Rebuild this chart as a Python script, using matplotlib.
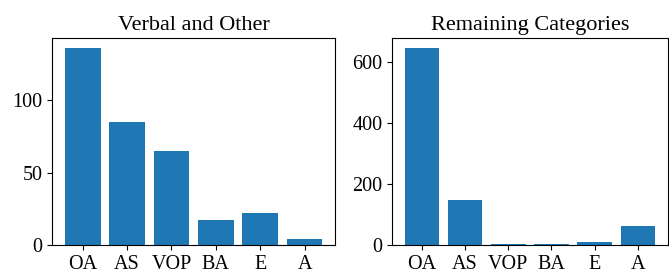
import matplotlib
matplotlib.use("Agg")
import matplotlib.pyplot as plt

plt.rcParams["font.family"] = ["Liberation Serif", "DejaVu Serif"]

CATEGORIES = ["OA", "AS", "VOP", "BA", "E", "A"]
VERBAL_OTHER = [136, 85, 65, 17, 22, 4]
REMAINING = [647, 147, 5, 3, 9, 62]

TITLES = ["Verbal and Other", "Remaining Categories"]
COLOR = "#1f77b4"

fig = plt.figure(figsize=(6.69, 2.72), dpi=100)
ax1 = fig.add_axes([0.078, 0.099, 0.423, 0.761])
ax2 = fig.add_axes([0.586, 0.099, 0.412, 0.761])

for ax, values, title in zip([ax1, ax2], [VERBAL_OTHER, REMAINING], TITLES):
    ax.bar(CATEGORIES, values, color=COLOR)
    ax.set_title(title, fontsize=16)
    ax.tick_params(labelsize=14.5)

ax1.set_yticks([0, 50, 100])
ax2.set_yticks([0, 200, 400, 600])

fig.savefig("out.png", dpi=100)
